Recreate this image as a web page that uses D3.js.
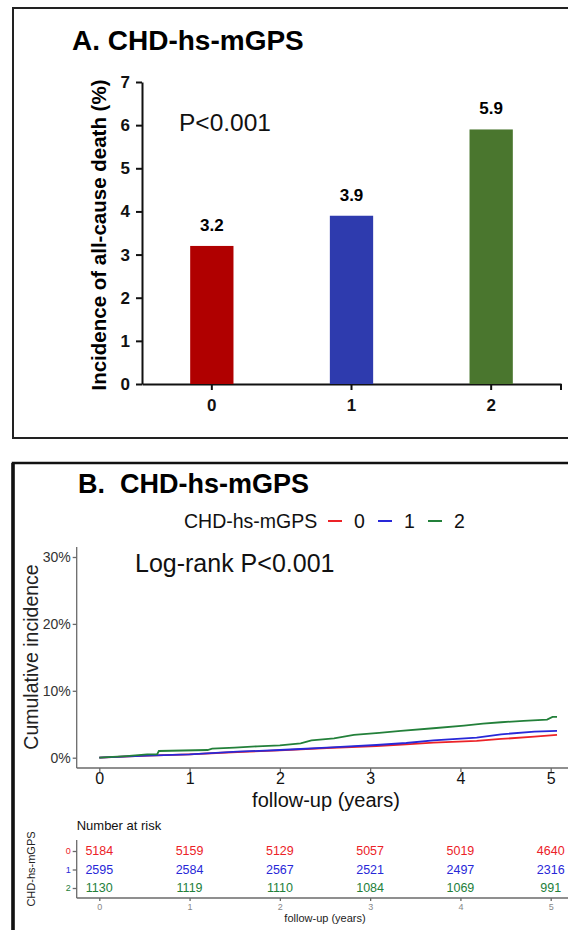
<!DOCTYPE html>
<html lang="en">
<head>
<meta charset="utf-8">
<title>CHD-hs-mGPS</title>
<script src="https://cdn.jsdelivr.net/npm/d3@7"></script>
<style>
  body { margin: 0; background: #fff; }
  svg { display: block; font-family: "Liberation Sans", Arial, sans-serif; }
</style>
</head>
<body>
<svg id="chart" width="568" height="930"></svg>
<script>

// ---- panel A data ----
var groups = ["0", "1", "2"];
var deathPct = [3.2, 3.9, 5.9];
var yTicksA = [0, 1, 2, 3, 4, 5, 6, 7];
var barColors = ["#b00000", "#2e3bae", "#4a762e"];

// ---- panel B data ([years, cumulative %]) ----
var years = [0, 1, 2, 3, 4, 5];
var pctTicks = [0, 10, 20, 30];
var curve0 = [[0,0],[0.53,0.3],[1.0,0.5],[1.53,0.85],[2.0,1.1],[2.52,1.45],[3.07,1.75],[3.4,2.0],
              [3.7,2.25],[4.18,2.5],[4.45,2.8],[4.82,3.15],[5.07,3.4]];
var curve1 = [[0,0],[0.53,0.3],[1.0,0.5],[1.53,0.9],[2.0,1.15],[2.23,1.3],[2.52,1.5],[3.07,1.9],
              [3.4,2.2],[3.7,2.6],[4.18,3.0],[4.45,3.5],[4.82,3.9],[5.07,4.0]];
var curve2 = [[0,0],[0.3,0.25],[0.53,0.5],[0.64,0.5],[0.66,1.0],[1.2,1.15],[1.25,1.35],[1.5,1.5],
              [1.75,1.7],[2.0,1.85],[2.23,2.15],[2.35,2.6],[2.6,2.9],[2.82,3.4],[3.1,3.7],[3.34,4.0],
              [3.7,4.4],[4.04,4.8],[4.25,5.1],[4.45,5.3],[4.7,5.5],[4.96,5.7],[5.02,6.1],[5.07,6.1]];
var risk0 = [5184, 5159, 5129, 5057, 5019, 4640];
var risk1 = [2595, 2584, 2567, 2521, 2497, 2316];
var risk2 = [1130, 1119, 1110, 1084, 1069, 991];
var lineColors = ["#ec2227", "#2828d8", "#23803a"];

var curves = [curve0, curve1, curve2];
var riskRows = [risk0, risk1, risk2];
var intFmt = d3.format("d");

var svg = d3.select("#chart");

// ================= panel A =================
svg.append("rect")
   .attr("x", 13).attr("y", 8).attr("width", 620).attr("height", 430)
   .attr("fill", "none").attr("stroke", "#222").attr("stroke-width", 2);

svg.append("text")
   .attr("x", 72).attr("y", 50)
   .style("font-size", "28px").style("font-weight", "bold")
   .text("A. CHD-hs-mGPS");

var xA = d3.scaleBand().domain(groups).range([142, 561])
   .paddingInner(0.69).paddingOuter(0.345);
var yA = d3.scaleLinear().domain([0, 7]).range([384, 82]);

var axA = svg.append("g").attr("transform", "translate(142,0)")
   .call(d3.axisLeft(yA).tickValues(yTicksA).tickFormat(intFmt)
          .tickSize(6).tickSizeOuter(0).tickPadding(6));
var axB = svg.append("g").attr("transform", "translate(0,384)")
   .call(d3.axisBottom(xA).tickSize(6).tickSizeOuter(0).tickPadding(9));
// closing tick at the right end of the x axis
axB.append("line").attr("x1", 561).attr("x2", 561).attr("y1", 0).attr("y2", 6);

[axA, axB].forEach(function(a) {
  a.selectAll("path, line").attr("stroke", "#111").attr("stroke-width", 2);
  a.selectAll("text").attr("fill", "#111")
   .style("font-size", "17px").style("font-weight", "bold");
});

svg.selectAll("rect.bar")
   .data(deathPct)
   .enter()
   .append("rect")
   .attr("class", "bar")
   .attr("x", function(d, i) { return xA(groups[i]); })
   .attr("width", xA.bandwidth())
   .attr("y", function(d) { return yA(d); })
   .attr("height", function(d) { return yA(0) - yA(d); })
   .attr("fill", function(d, i) { return barColors[i]; });

svg.selectAll("text.val")
   .data(deathPct)
   .enter()
   .append("text")
   .attr("class", "val")
   .attr("x", function(d, i) { return xA(groups[i]) + xA.bandwidth() / 2; })
   .attr("y", function(d) { return yA(d) - 15; })
   .attr("text-anchor", "middle")
   .style("font-size", "17px").style("font-weight", "bold")
   .text(function(d) { return d.toFixed(1); });

svg.append("text")
   .attr("x", 179).attr("y", 131)
   .style("font-size", "24.5px").attr("fill", "#111")
   .text("P<0.001");

svg.append("text")
   .attr("transform", "translate(106,235) rotate(-90)")
   .attr("text-anchor", "middle")
   .style("font-size", "20.5px").style("font-weight", "bold")
   .text("Incidence of all-cause death (%)");

// ================= panel B =================
svg.append("rect")
   .attr("x", 13).attr("y", 463).attr("width", 620).attr("height", 520)
   .attr("fill", "none").attr("stroke", "#111").attr("stroke-width", 2.5);
svg.append("line")
   .attr("x1", 13).attr("x2", 13).attr("y1", 463).attr("y2", 930)
   .attr("stroke", "#111").attr("stroke-width", 3.5);

svg.append("text")
   .attr("x", 78).attr("y", 493)
   .style("font-size", "27px").style("font-weight", "bold")
   .attr("xml:space", "preserve")
   .text("B.  CHD-hs-mGPS");

// legend
svg.append("text")
   .attr("x", 184).attr("y", 528)
   .style("font-size", "19.5px").attr("fill", "#111")
   .text("CHD-hs-mGPS");
var leg = svg.selectAll("g.leg")
   .data(groups)
   .enter()
   .append("g")
   .attr("class", "leg")
   .attr("transform", function(d, i) { return "translate(" + (328 + i * 50) + ",0)"; });
leg.append("line")
   .attr("x1", 0).attr("x2", 14).attr("y1", 521).attr("y2", 521)
   .attr("stroke", function(d, i) { return lineColors[i]; }).attr("stroke-width", 2);
leg.append("text")
   .attr("x", 26).attr("y", 528)
   .style("font-size", "19.5px").attr("fill", "#111")
   .text(function(d) { return d; });

var xB = d3.scaleLinear().domain([0, 5]).range([99.3, 550.7]);
var yB = d3.scaleLinear().domain([0, 30]).range([757.7, 557]);

var gy = svg.append("g").attr("transform", "translate(76.7,0)")
   .call(d3.axisLeft(yB).tickValues(pctTicks).tickSize(4).tickPadding(2)
          .tickFormat(function(d) { return d + "%"; }));
gy.select(".domain").remove();
gy.append("line").attr("y1", 547).attr("y2", 768);

var gx = svg.append("g").attr("transform", "translate(0,768)")
   .call(d3.axisBottom(xB).tickValues(years).tickFormat(intFmt).tickSize(4).tickPadding(1));
gx.select(".domain").remove();
gx.append("line").attr("x1", 76.7).attr("x2", 575);

[gy, gx].forEach(function(a) {
  a.selectAll("line").attr("stroke", "#6a6a6a").attr("stroke-width", 1.3);
});
gy.selectAll("text").attr("fill", "#333").style("font-size", "14px");
gx.selectAll("text").attr("fill", "#111").style("font-size", "16px");

var line = d3.line()
   .x(function(d) { return xB(d[0]); })
   .y(function(d) { return yB(d[1]); });

svg.selectAll("path.km")
   .data(curves)
   .enter()
   .append("path")
   .attr("class", "km")
   .attr("d", line)
   .attr("fill", "none")
   .attr("stroke", function(d, i) { return lineColors[i]; })
   .attr("stroke-width", 1.8);

svg.append("text")
   .attr("x", 135).attr("y", 572)
   .style("font-size", "25px").attr("fill", "#111")
   .text("Log-rank P<0.001");

svg.append("text")
   .attr("x", 326).attr("y", 807)
   .attr("text-anchor", "middle")
   .style("font-size", "20px").attr("fill", "#111")
   .text("follow-up (years)");

svg.append("text")
   .attr("transform", "translate(38,657) rotate(-90)")
   .attr("text-anchor", "middle")
   .style("font-size", "19.5px").attr("fill", "#222")
   .text("Cumulative incidence");

// ---- number at risk table ----
svg.append("text")
   .attr("x", 76.7).attr("y", 830)
   .style("font-size", "13px").attr("fill", "#111")
   .text("Number at risk");

var yT = d3.scalePoint().domain(groups).range([851, 888]);

var ty = svg.append("g").attr("transform", "translate(76.7,0)")
   .call(d3.axisLeft(yT).tickSize(4).tickPadding(2));
ty.select(".domain").remove();
ty.append("line").attr("y1", 840).attr("y2", 898);
ty.selectAll(".tick text")
   .attr("fill", function(d, i) { return lineColors[i]; })
   .style("font-size", "9px");

var tx = svg.append("g").attr("transform", "translate(0,898)")
   .call(d3.axisBottom(xB).tickValues(years).tickFormat(intFmt).tickSize(3).tickPadding(3));
tx.select(".domain").remove();
tx.append("line").attr("x1", 76.7).attr("x2", 575);
tx.selectAll("text").attr("fill", "#888").style("font-size", "9px");

[ty, tx].forEach(function(a) {
  a.selectAll("line").attr("stroke", "#6a6a6a").attr("stroke-width", 1.3);
});

riskRows.forEach(function(row, r) {
  svg.selectAll("text.risk" + r)
     .data(row)
     .enter()
     .append("text")
     .attr("class", "risk" + r)
     .attr("x", function(d, i) { return xB(years[i]); })
     .attr("y", yT(groups[r]))
     .attr("dy", "0.35em")
     .attr("text-anchor", "middle")
     .style("font-size", "12.5px")
     .attr("fill", lineColors[r])
     .text(function(d) { return d; });
});

svg.append("text")
   .attr("x", 325).attr("y", 922)
   .attr("text-anchor", "middle")
   .style("font-size", "11px").attr("fill", "#222")
   .text("follow-up (years)");

svg.append("text")
   .attr("transform", "translate(35,869) rotate(-90)")
   .attr("text-anchor", "middle")
   .style("font-size", "11px").attr("fill", "#222")
   .text("CHD-hs-mGPS");

</script>
</body>
</html>
